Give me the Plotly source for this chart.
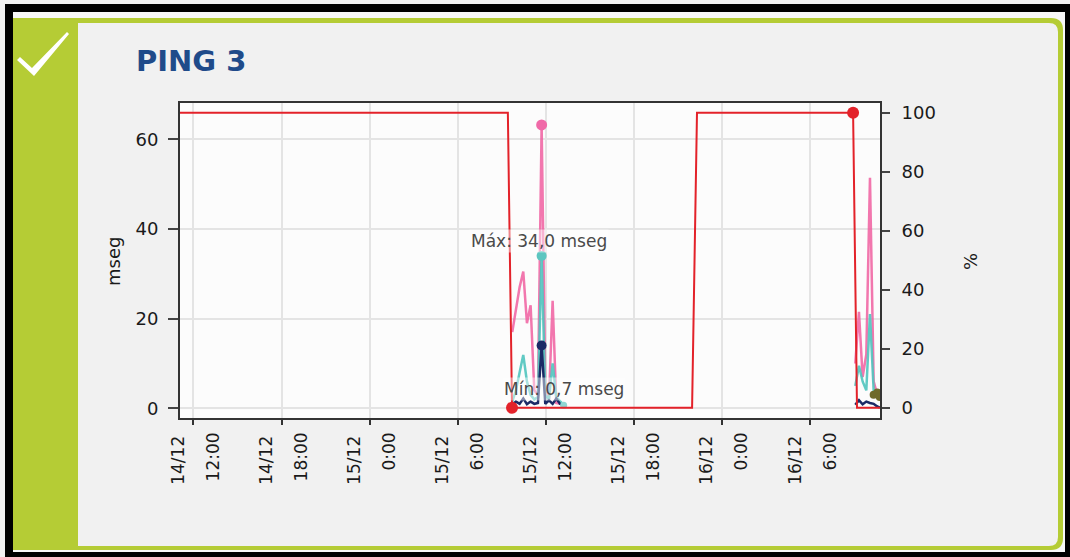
import numpy as np
import plotly.graph_objects as go

# ---------------- data ----------------
x_range = ["2015-12-14 11:05", "2015-12-16 10:46"]

tick_times = ["2015-12-14 12:00", "2015-12-14 18:00", "2015-12-15 00:00", "2015-12-15 06:00",
              "2015-12-15 12:00", "2015-12-15 18:00", "2015-12-16 00:00", "2015-12-16 06:00"]
tick_dates = ["14/12", "14/12", "15/12", "15/12", "15/12", "15/12", "16/12", "16/12"]
tick_hours = ["12:00", "18:00", "0:00", "6:00", "12:00", "18:00", "0:00", "6:00"]

# availability / loss (%), right axis
pct_times = ["2015-12-14 11:05", "2015-12-15 09:25", "2015-12-15 09:42", "2015-12-15 21:58",
             "2015-12-15 22:18", "2015-12-16 08:56", "2015-12-16 09:12", "2015-12-16 10:46"]
pct_values = [100, 100, 0, 0, 100, 100, 0, 0]

# ping windows (mseg), left axis
w1_times = ["2015-12-15 09:43", "2015-12-15 09:58", "2015-12-15 10:13", "2015-12-15 10:28",
            "2015-12-15 10:43", "2015-12-15 10:58", "2015-12-15 11:13", "2015-12-15 11:28",
            "2015-12-15 11:43", "2015-12-15 11:58", "2015-12-15 12:13", "2015-12-15 12:28",
            "2015-12-15 12:43", "2015-12-15 12:58", "2015-12-15 13:13"]
w2_times = ["2015-12-16 09:05", "2015-12-16 09:20", "2015-12-16 09:35", "2015-12-16 09:50",
            "2015-12-16 10:05", "2015-12-16 10:20", "2015-12-16 10:35", "2015-12-16 10:45"]

ping_max_w1 = [17, 22, 27, 30.5, 19, 23, 4, 3, 63.2, 5, 2, 24, 1.2, 1.0, 0.9]
ping_max_w2 = [10, 21.5, 7, 12, 51.4, 6, 3, 2]
ping_avg_w1 = [1.5, 4, 8, 11.9, 6, 3, 2, 2.5, 34.0, 3, 2, 10, 2.5, 1.5, 0.7]
ping_avg_w2 = [5, 9.5, 6, 4, 21, 4, 3, 2]
ping_min_w1 = [0.8, 1.5, 1.0, 2.2, 0.9, 1.5, 1.0, 1.2, 14.0, 1.0, 1.8, 1.0, 2.2, 1.0, 0.6]
ping_min_w2 = [0.8, 1.8, 0.9, 1.5, 1.2, 1.0, 0.4, 0.2]
olive_times = ["2015-12-16 10:20", "2015-12-16 10:35", "2015-12-16 10:45"]
olive_values = [3.0, 3.5, 2.5]

title_text = "PING 3"
left_title = "mseg"
right_title = "%"

# ---------------- helpers ----------------
W, H = 1070, 557
L, R, T, B = 180, 190, 103, 139
PW, PH = W - L - R, H - T - B


def X(px):
    return (px - L) / PW


def Y(py):
    return (H - B - py) / PH


def rrect_path(x0, y0, x1, y1, r):
    pts = [
        f"M {X(x0)},{Y(y0)}",
        f"L {X(x1 - r)},{Y(y0)}",
        f"Q {X(x1)},{Y(y0)} {X(x1)},{Y(y0 + r)}",
        f"L {X(x1)},{Y(y1 - r)}",
        f"Q {X(x1)},{Y(y1)} {X(x1 - r)},{Y(y1)}",
        f"L {X(x0)},{Y(y1)} Z",
    ]
    return " ".join(pts)


def poly_path(points):
    return "M " + " L ".join(f"{X(a)},{Y(b)}" for a, b in points) + " Z"


def join(a, b):
    return list(a) + [None] + list(b)


ping_times = join(w1_times, w2_times)
ping_max = join(ping_max_w1, ping_max_w2)
ping_avg = join(ping_avg_w1, ping_avg_w2)
ping_min = join(ping_min_w1, ping_min_w2)

PINK = "rgba(240,95,160,0.85)"
TEAL = "rgba(80,196,190,0.9)"
NAVY = "#1b2a66"
RED = "#e3222a"
OLIVE = "#6e6a2c"
FONT = "DejaVu Sans"

fig = go.Figure()


def add_series(times, vals, color, width=2, name=""):
    fig.add_trace(go.Scatter(x=times, y=vals, mode="lines", line=dict(color=color, width=width),
                             connectgaps=False, showlegend=False, hoverinfo="skip", name=name))


add_series(ping_times, ping_max, PINK, 2.5, "max")
add_series(ping_times, ping_avg, TEAL, 2.5, "avg")
add_series(ping_times, ping_min, NAVY, 2.5, "min")
fig.add_trace(go.Scatter(x=olive_times, y=olive_values, mode="lines+markers",
                         line=dict(color=OLIVE, width=3), marker=dict(color=OLIVE, size=8),
                         showlegend=False, hoverinfo="skip"))


def arg_ext(vals, kind):
    arr = np.array([np.nan if v is None else v for v in vals], dtype=float)
    return int(np.nanargmax(arr)) if kind == "max" else int(np.nanargmin(arr))


for vals, color, size in [(ping_max, "#f06aa8", 11), (ping_avg, "#5cc6c0", 10), (ping_min, NAVY, 10)]:
    i = arg_ext(vals, "max")
    fig.add_trace(go.Scatter(x=[ping_times[i]], y=[vals[i]], mode="markers",
                             marker=dict(color=color, size=size), showlegend=False, hoverinfo="skip"))

i_avg_min = arg_ext(ping_avg, "min")
fig.add_trace(go.Scatter(x=[ping_times[i_avg_min]], y=[ping_avg[i_avg_min]], mode="markers",
                         marker=dict(color="#8fd6d2", size=7), showlegend=False, hoverinfo="skip"))

# percentage on right axis
fig.add_trace(go.Scatter(x=pct_times, y=pct_values, mode="lines", line=dict(color=RED, width=2),
                         yaxis="y2", showlegend=False, hoverinfo="skip"))
pv = np.array(pct_values, dtype=float)
i_pmin = int(np.argmin(pv))
i_pmax = int(len(pv) - 1 - np.argmax(pv[::-1]))
fig.add_trace(go.Scatter(x=[pct_times[i_pmin], pct_times[i_pmax]],
                         y=[pct_values[i_pmin], pct_values[i_pmax]], mode="markers",
                         marker=dict(color=RED, size=12), yaxis="y2",
                         showlegend=False, hoverinfo="skip"))

# dummy trace for the second tick-label row axis
fig.add_trace(go.Scatter(x=x_range, y=[None, None], xaxis="x2", yaxis="y", mode="lines",
                         showlegend=False, hoverinfo="skip"))

i_avg_max = arg_ext(ping_avg, "max")
annotations = [
    dict(x=ping_times[i_avg_max], y=ping_avg[i_avg_max], xref="x", yref="y",
         text=f"Máx: {ping_avg[i_avg_max]:.1f} mseg".replace(".", ","), showarrow=False,
         yshift=15, xshift=-3, font=dict(family=FONT, size=17, color="#4a4a4a"),
         bgcolor="rgba(255,255,255,0.45)"),
    dict(x=ping_times[i_avg_min], y=ping_avg[i_avg_min], xref="x", yref="y",
         text=f"Mín: {ping_avg[i_avg_min]:.1f} mseg".replace(".", ","), showarrow=False,
         yshift=16, xshift=0, font=dict(family=FONT, size=17, color="#4a4a4a"),
         bgcolor="rgba(255,255,255,0.45)"),
    dict(x=X(134), y=Y(61), xref="paper", yref="paper", text="<b>" + title_text + "</b>",
         showarrow=False, xanchor="left", yanchor="middle",
         font=dict(family=FONT, size=29, color="#1f4b8a")),
    dict(x=X(113), y=Y(262), xref="paper", yref="paper", text=left_title, showarrow=False,
         xanchor="center", yanchor="middle", textangle=-90,
         font=dict(family=FONT, size=18, color="#1a1a1a")),
    dict(x=X(970), y=Y(262), xref="paper", yref="paper", text=right_title, showarrow=False,
         xanchor="center", yanchor="middle", textangle=-90,
         font=dict(family=FONT, size=18, color="#1a1a1a")),
]

shapes = [
    dict(type="rect", xref="paper", yref="paper", x0=X(13), x1=X(1065), y0=Y(12), y1=Y(552),
         fillcolor="#f8f8f8", line=dict(width=0), layer="below"),
    dict(type="path", xref="paper", yref="paper", path=rrect_path(13, 18, 1063, 550, 12),
         fillcolor="#b5cc35", line=dict(width=0), layer="below"),
    dict(type="path", xref="paper", yref="paper", path=rrect_path(78, 23, 1058, 546, 9),
         fillcolor="#f1f1f1", line=dict(width=0), layer="below"),
    dict(type="rect", xref="paper", yref="paper", x0=0, x1=1, y0=0, y1=1,
         fillcolor="#fcfcfc", line=dict(width=0), layer="below"),
    dict(type="rect", xref="paper", yref="paper", x0=X(9), x1=X(1069), y0=Y(8), y1=Y(556),
         line=dict(color="black", width=8), fillcolor="rgba(0,0,0,0)", layer="above"),
    dict(type="path", xref="paper", yref="paper",
         path=poly_path([(17, 60), (20, 57), (32, 68), (67, 32), (69, 34), (34, 76)]),
         fillcolor="white", line=dict(width=0), layer="above"),
]

tickfont = dict(family=FONT, size=17, color="#1a1a1a")

fig.update_layout(
    template="none",
    width=W, height=H,
    margin=dict(l=L, r=R, t=T, b=B, pad=0),
    paper_bgcolor="#f1f1f1",
    plot_bgcolor="#fcfcfc",
    showlegend=False,
    hovermode=False,
    shapes=shapes,
    annotations=annotations,
    xaxis=dict(type="date", range=x_range, tickmode="array", tickvals=tick_times,
               ticktext=tick_dates, tickangle=-90, tickfont=tickfont,
               ticks="outside", ticklen=5, tickwidth=2, tickcolor="#333",
               showline=True, linecolor="#333", linewidth=2, mirror=True,
               showgrid=True, gridcolor="#e4e4e4", gridwidth=2, zeroline=False,
               automargin=False, ticklabelshift=-15, ticklabelstandoff=4),
    xaxis2=dict(type="date", range=x_range, overlaying="x", anchor="y", side="bottom",
                tickmode="array", tickvals=tick_times, ticktext=tick_hours, tickangle=-90,
                tickfont=tickfont, ticks="", showline=False, showgrid=False, zeroline=False,
                automargin=False, ticklabelshift=20, ticklabelstandoff=10),
    yaxis=dict(range=[-2.16, 68.1], tickmode="array", tickvals=[0, 20, 40, 60],
               tickfont=dict(family=FONT, size=18, color="#1a1a1a"),
               ticks="outside", ticklen=10, tickwidth=2, tickcolor="#444",
               showline=True, linecolor="#333", linewidth=2,
               showgrid=True, gridcolor="#e4e4e4", gridwidth=2, zeroline=False,
               automargin=False, ticklabelstandoff=6),
    yaxis2=dict(range=[-3.5, 103.3], overlaying="y", side="right", anchor="x",
                tickmode="array", tickvals=[0, 20, 40, 60, 80, 100],
                tickfont=dict(family=FONT, size=18, color="#1a1a1a"),
                ticks="outside", ticklen=8, tickwidth=2, tickcolor="#444",
                showline=True, linecolor="#333", linewidth=2,
                showgrid=False, zeroline=False, automargin=False, ticklabelstandoff=8),
)

fig.write_html("out.html", config={"displayModeBar": False, "staticPlot": True},
               post_script="document.body.style.margin='0';document.body.style.padding='0';"
                           "document.body.style.overflow='hidden';")
